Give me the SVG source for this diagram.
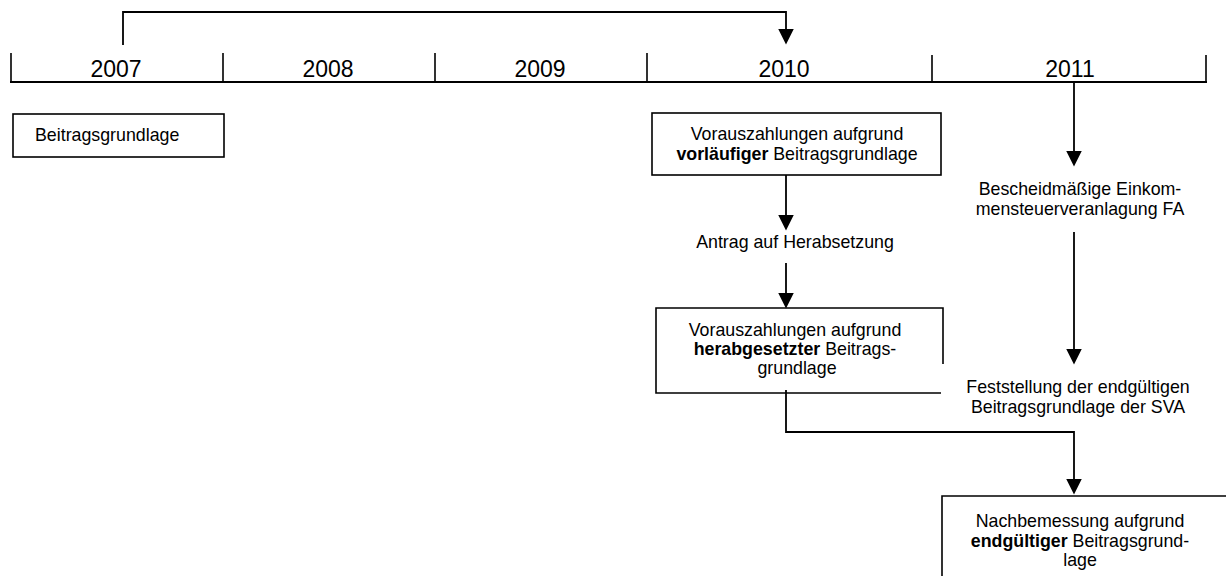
<svg xmlns="http://www.w3.org/2000/svg" width="1226" height="576" viewBox="0 0 1226 576">
<style>
text{font-family:"Liberation Sans",Arial,sans-serif;fill:#000}
.yr{font-size:23px;text-anchor:middle}
.t{font-size:17.8px}
.c{text-anchor:middle}
.b{font-weight:bold}
.box{fill:none;stroke:#000;stroke-width:1.6}
.ln{fill:none;stroke:#000;stroke-width:1.8}
.tk{fill:none;stroke:#000;stroke-width:1.6}
</style>
<defs>
<marker id="ah" markerUnits="userSpaceOnUse" markerWidth="16" markerHeight="16" viewBox="0 0 15 15" refX="7" refY="7.5" orient="auto">
<path d="M0,0 L15,7.5 L0,15 z" fill="#000"/>
</marker>
</defs>
<rect width="1226" height="576" fill="#fff"/>
<g id="timeline">
<path class="ln" d="M10,82 H1207"/>
<path class="tk" d="M11,53 V82 M223,53 V82 M435,53 V82 M647,53 V82 M932,55 V82 M1206,55 V82"/>
<text class="yr" x="116" y="77">2007</text>
<text class="yr" x="328" y="77">2008</text>
<text class="yr" x="540" y="77">2009</text>
<text class="yr" x="784" y="77">2010</text>
<text class="yr" x="1070" y="77">2011</text>
</g>
<g id="connectors">
<path class="ln" d="M123,45 V12 H786 V36" marker-end="url(#ah)"/>
<path class="ln" d="M786,175 V222" marker-end="url(#ah)"/>
<path class="ln" d="M786,263 V300" marker-end="url(#ah)"/>
<path class="ln" d="M786,390 V432 H1074 V486" marker-end="url(#ah)"/>
<path class="ln" d="M1074,82 V158" marker-end="url(#ah)"/>
<path class="ln" d="M1074,232 V356" marker-end="url(#ah)"/>
</g>
<g id="n-beitragsgrundlage">
<rect class="box" x="13" y="114" width="211" height="43"/>
<text class="t" x="35" y="141">Beitragsgrundlage</text>
</g>
<g id="n-vorlaeufig">
<rect class="box" x="652" y="113" width="289" height="62"/>
<text class="t c" x="797" y="140">Vorauszahlungen aufgrund</text>
<text class="t c" x="797" y="160"><tspan class="b">vorläufiger</tspan> Beitragsgrundlage</text>
</g>
<g id="n-antrag">
<text class="t c" x="795" y="248">Antrag auf Herabsetzung</text>
</g>
<g id="n-herabgesetzt">
<path class="box" d="M941,393 H656 V308 H943 V364"/>
<text class="t c" x="795" y="336">Vorauszahlungen aufgrund</text>
<text class="t c" x="795" y="355"><tspan class="b">herabgesetzter</tspan> Beitrags-</text>
<text class="t c" x="797" y="374">grundlage</text>
</g>
<g id="n-bescheid">
<text class="t c" x="1080" y="195">Bescheidmäßige Einkom-</text>
<text class="t c" x="1080" y="215">mensteuerveranlagung FA</text>
</g>
<g id="n-feststellung">
<text class="t c" x="1078" y="393">Feststellung der endgültigen</text>
<text class="t c" x="1078" y="413">Beitragsgrundlage der SVA</text>
</g>
<g id="n-nachbemessung">
<path class="box" d="M1227,496 H942 V577"/>
<text class="t c" x="1080" y="527">Nachbemessung aufgrund</text>
<text class="t c" x="1080" y="547"><tspan class="b">endgültiger</tspan> Beitragsgrund-</text>
<text class="t c" x="1080" y="566">lage</text>
</g>
</svg>
